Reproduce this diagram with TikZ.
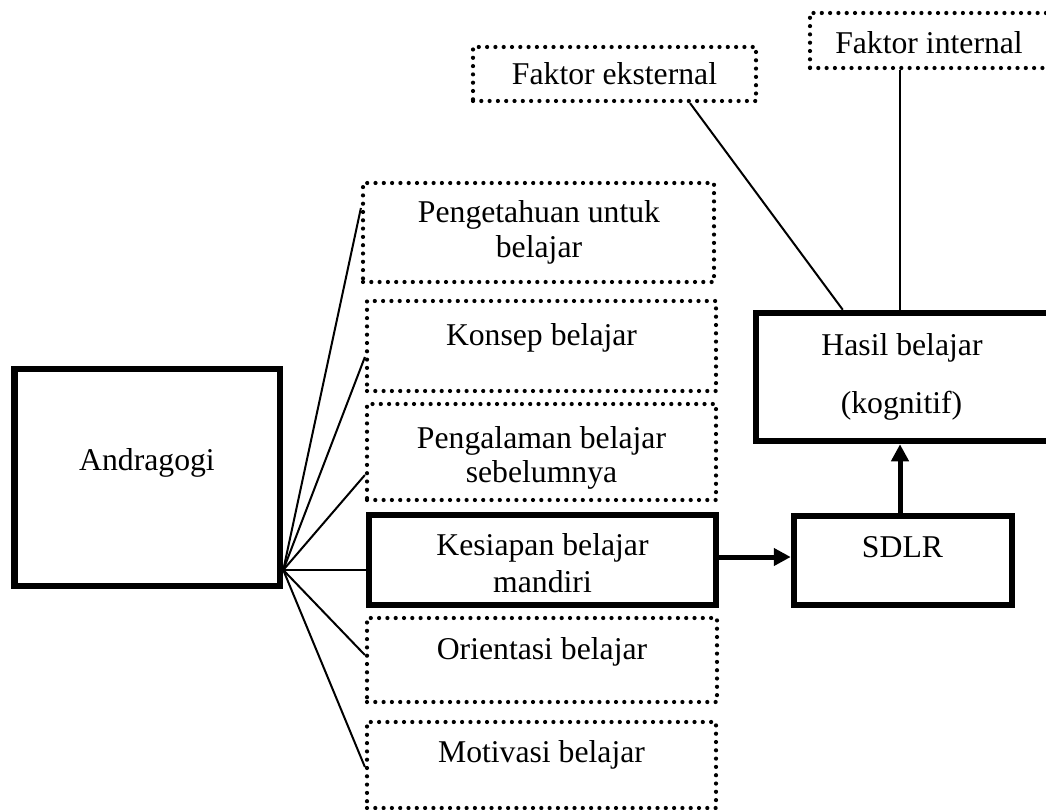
\documentclass[tikz,border=0pt]{standalone}
\usepackage{fontspec}
\setmainfont{Liberation Serif}
\usetikzlibrary{arrows.meta,calc}
\begin{document}
\begin{tikzpicture}[x=1pt,y=-1pt,
  font=\fontsize{31.7}{38}\selectfont,
  solidbox/.style={draw, line width=6.5pt, inner sep=0pt},
  dotbox/.style={draw, line width=4.2pt, line cap=round, dash pattern=on 0pt off 8.3pt, inner sep=0pt},
  conn/.style={line width=2pt},
  bigarrow/.style={line width=5pt, -{Triangle[length=17pt,width=17pt]}},
  txt/.style={inner sep=0pt, anchor=base}]
\useasboundingbox (0,0) rectangle (1046,810);
\clip (0,0) rectangle (1046,810);
\fill[white] (0,0) rectangle (1046,810);

% boxes
\node[solidbox, minimum width=265.5pt, minimum height=217pt] (andra) at (147.25,477.5) {};
\node[dotbox, minimum width=351pt, minimum height=99pt] (b1) at (538.5,232.5) {};
\node[dotbox, minimum width=349pt, minimum height=90pt] (b2) at (541.5,346) {};
\node[dotbox, minimum width=349pt, minimum height=96pt] (b3) at (541.5,452) {};
\node[solidbox, minimum width=347pt, minimum height=90pt] (b4) at (542.5,560) {};
\node[dotbox, minimum width=350pt, minimum height=84pt] (b5) at (542,660) {};
\node[dotbox, minimum width=349pt, minimum height=86pt] (b6) at (541.5,765) {};
\node[dotbox, minimum width=283pt, minimum height=54pt] (eks) at (614.5,74) {};
\node[dotbox, minimum width=244pt, minimum height=55pt] (int) at (932,40.5) {};
\node[solidbox, minimum width=304pt, minimum height=128pt] (hasil) at (908,377) {};
\node[solidbox, minimum width=218pt, minimum height=89pt] (sdlr) at (903,560.5) {};

% texts
\node[txt] (tandra) at (147,470) {Andragogi};
\node[txt] (t1a) at (539,223) {Pengetahuan untuk};
\node[txt] (t1b) at (539,258) {belajar};
\node[txt] (t2) at (541.5,345) {Konsep belajar};
\node[txt] (t3a) at (541.5,448) {Pengalaman belajar};
\node[txt] (t3b) at (541.5,482) {sebelumnya};
\node[txt] (t4a) at (542.5,555) {Kesiapan belajar};
\node[txt] (t4b) at (542.5,592) {mandiri};
\node[txt] (t5) at (542,659) {Orientasi belajar};
\node[txt] (t6) at (541.5,762) {Motivasi belajar};
\node[txt] (teks) at (614.5,85) {Faktor eksternal};
\node[txt] (tint) at (929,54) {Faktor internal};
\node[txt] (th1) at (902,355) {Hasil belajar};
\node[txt] (th2) at (901.5,413) {(kognitif)};
\node[txt] (tsdlr) at (902.5,557) {SDLR};

% connectors from Andragogi
\coordinate (hub) at ([yshift=-92.5pt]andra.east);
\draw[conn] (hub) -- ([yshift=24.5pt]b1.west);
\draw[conn] (hub) -- ([yshift=-11pt]b2.west);
\draw[conn] (hub) -- ([yshift=-23pt]b3.west);
\draw[conn] (hub) -- (hub -| b4.west);
\draw[conn] (hub) -- ([yshift=5pt]b5.west);
\draw[conn] (hub) -- ([yshift=-2pt]b6.west);

% factor connectors
\draw[conn] ([xshift=75.5pt]eks.south) -- ($(hasil.north west)+(90,0)$);
\draw[conn] ([xshift=-32pt]int.south) -- ([xshift=-32pt]int.south |- hasil.north);

% arrows
\draw[bigarrow] ([yshift=3pt]b4.east) -- ([yshift=3pt]b4.east -| sdlr.west);
\draw[bigarrow] ([xshift=-3pt]sdlr.north) -- ([xshift=-3pt]sdlr.north |- hasil.south);
\end{tikzpicture}
\end{document}
